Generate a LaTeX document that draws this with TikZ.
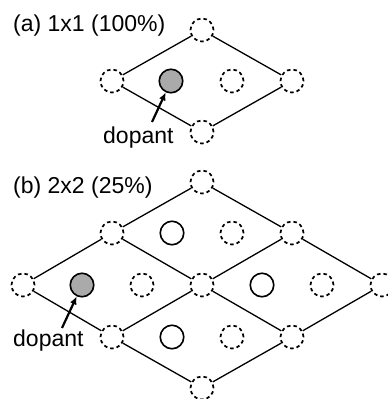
\documentclass[tikz,border=0pt]{standalone}
\usepackage{fontspec}
\setmainfont{Liberation Sans}
\usetikzlibrary{arrows.meta}
\begin{document}
\begin{tikzpicture}[x=1pt,y=-1pt,
  site/.style={circle,draw,line width=1.7pt,dash pattern=on 3.5pt off 3pt,minimum size=23pt,inner sep=0pt},
  atom/.style={circle,draw,line width=1.6pt,minimum size=23.5pt,inner sep=0pt,fill=white},
  dopantatom/.style={atom,fill=dopgray},
  bond/.style={line width=1.3pt},
  lbl/.style={font=\fontsize{23}{27}\selectfont,inner sep=0pt,anchor=base west},
  pointer/.style={line width=2.2pt,-{Latex[length=8pt,width=7pt]}}
]
\useasboundingbox (0,0) rectangle (388,399);
\definecolor{dopgray}{RGB}{170,170,170}

% ---------- (a) 1x1 cell ----------
\node[lbl] (ta) at (13,31.5) {(a) 1x1 (100\%)};
\node[site] (aT) at (202,30) {};
\node[site] (aL) at (112,81) {};
\node[site] (aR) at (292,81) {};
\node[site] (aB) at (202,132) {};
\node[dopantatom] (aD) at (171,81) {};
\node[site] (aS) at (232,81) {};
\draw[bond] (aL) -- (aT) -- (aR) -- (aB) -- (aL);
\node[lbl] (da) at (103,143) {dopant};
\coordinate (daTail) at (152,122);
\draw[pointer] (daTail) -- (aD);

% ---------- (b) 2x2 cell ----------
\node[lbl] (tb) at (13,193) {(b) 2x2 (25\%)};
\node[site] (bT)  at (202,182) {};
\node[site] (b2L) at (112,233) {};
\node[site] (b2R) at (292,233) {};
\node[site] (b3L) at (23,285) {};
\node[site] (b3C) at (202,285) {};
\node[site] (b3R) at (382,285) {};
\node[site] (b4L) at (112,337) {};
\node[site] (b4R) at (292,337) {};
\node[site] (bB)  at (202,388) {};
% interstitial positions
\node[atom] (o1) at (172,233) {};
\node[site] (s1) at (232,233) {};
\node[dopantatom] (bD) at (82,285) {};
\node[site] (s2) at (142,285) {};
\node[atom] (o2) at (262,285) {};
\node[site] (s3) at (322,285) {};
\node[atom] (o3) at (172,337) {};
\node[site] (s4) at (232,337) {};
% outer border
\draw[bond] (bT) -- (b2L) -- (b3L) -- (b4L) -- (bB) -- (b4R) -- (b3R) -- (b2R) -- (bT);
% inner lines
\draw[bond] (b2L) -- (b3C) -- (b4R);
\draw[bond] (b4L) -- (b3C) -- (b2R);
\node[lbl] (db) at (13,346) {dopant};
\coordinate (dbTail) at (62,328);
\draw[pointer] (dbTail) -- (bD);
\end{tikzpicture}
\end{document}
